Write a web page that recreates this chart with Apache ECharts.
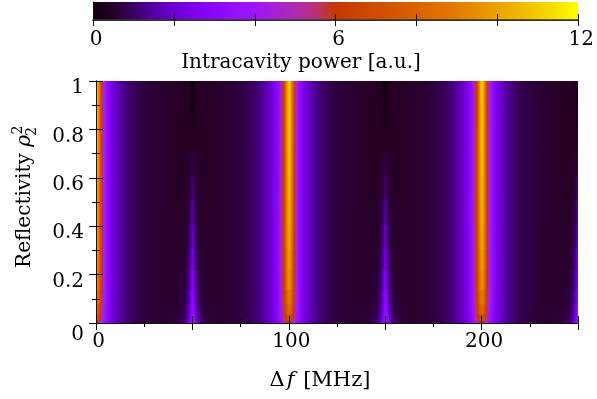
<!DOCTYPE html>
<html><head><meta charset="utf-8">
<script src="https://cdn.jsdelivr.net/npm/echarts@6/dist/echarts.min.js"></script>
<style>html,body{margin:0;padding:0;background:#fff}#c{width:597px;height:399px}</style>
</head><body><div id="c"></div>
<script>
// ---- data ----
const detuningRange = [0, 250];            // MHz
const resonancesMHz = [0, 100, 200];       // main resonances
// offsets (MHz) from the nearest main resonance, out to the half-way point
const detuningOffsets = [0, 0.5, 1, 1.5, 2, 2.5, 3, 3.5, 4, 5, 6, 7, 8, 10, 12, 15, 19, 24, 30, 36, 42, 46, 48, 49, 49.5, 50];
// reflectivity bands (rho_2^2)
const reflectivityEdges = [0, 0.015, 0.04, 0.08, 0.14, 0.22, 0.31, 0.41, 0.51, 0.61, 0.71, 0.81, 0.91, 1.0];
// intracavity power [a.u.], one row per band (bottom to top), one value per offset
const powerRows = [
  [6.4, 6.3, 6.1, 5.8, 5.4, 5.0, 4.6, 4.2, 3.8, 3.3, 2.9, 2.6, 2.3, 1.9, 1.58, 1.24, 0.95, 0.75, 0.62, 0.56, 0.7, 1.2, 2.4, 3.3, 3.7, 3.9],
  [7.4, 7.3, 7.0, 6.6, 6.1, 5.6, 5.0, 4.5, 4.1, 3.5, 3.0, 2.7, 2.4, 1.92, 1.6, 1.25, 0.95, 0.75, 0.62, 0.56, 0.65, 1.0, 2.0, 3.0, 3.4, 3.6],
  [8.3, 8.1, 7.8, 7.3, 6.7, 6.1, 5.4, 4.8, 4.3, 3.6, 3.1, 2.75, 2.42, 1.95, 1.6, 1.25, 0.95, 0.75, 0.62, 0.56, 0.6, 0.85, 1.7, 2.6, 3.1, 3.3],
  [9.0, 8.8, 8.4, 7.8, 7.1, 6.4, 5.7, 5.0, 4.5, 3.7, 3.15, 2.78, 2.44, 1.95, 1.6, 1.25, 0.95, 0.75, 0.62, 0.56, 0.58, 0.75, 1.45, 2.3, 2.8, 3.0],
  [9.6, 9.4, 8.9, 8.2, 7.4, 6.6, 5.9, 5.1, 4.6, 3.8, 3.2, 2.8, 2.45, 1.95, 1.6, 1.25, 0.95, 0.75, 0.62, 0.56, 0.56, 0.68, 1.2, 1.95, 2.45, 2.65],
  [9.9, 9.7, 9.1, 8.4, 7.6, 6.8, 6.0, 5.2, 4.6, 3.8, 3.2, 2.8, 2.45, 1.95, 1.6, 1.25, 0.95, 0.75, 0.62, 0.56, 0.55, 0.62, 1.0, 1.6, 2.05, 2.25],
  [10.2, 10.0, 9.4, 8.6, 7.7, 6.9, 6.0, 5.2, 4.7, 3.8, 3.2, 2.8, 2.45, 1.95, 1.6, 1.25, 0.95, 0.75, 0.62, 0.56, 0.54, 0.58, 0.85, 1.3, 1.65, 1.85],
  [10.4, 10.1, 9.5, 8.7, 7.8, 6.9, 6.1, 5.3, 4.7, 3.8, 3.2, 2.8, 2.45, 1.95, 1.6, 1.25, 0.95, 0.75, 0.62, 0.56, 0.53, 0.55, 0.72, 1.05, 1.3, 1.45],
  [10.6, 10.3, 9.7, 8.8, 7.9, 7.0, 6.1, 5.3, 4.7, 3.8, 3.2, 2.8, 2.45, 1.95, 1.6, 1.25, 0.95, 0.75, 0.62, 0.56, 0.52, 0.53, 0.62, 0.82, 1.0, 1.1],
  [10.7, 10.4, 9.8, 8.9, 7.9, 7.0, 6.1, 5.3, 4.7, 3.8, 3.2, 2.8, 2.45, 1.95, 1.6, 1.25, 0.95, 0.75, 0.62, 0.56, 0.52, 0.52, 0.56, 0.65, 0.74, 0.78],
  [10.8, 10.5, 9.9, 8.9, 8.0, 7.0, 6.1, 5.3, 4.7, 3.8, 3.2, 2.8, 2.45, 1.95, 1.6, 1.25, 0.95, 0.75, 0.62, 0.56, 0.52, 0.51, 0.5, 0.48, 0.46, 0.45],
  [10.9, 10.6, 9.9, 9.0, 8.0, 7.0, 6.1, 5.3, 4.7, 3.8, 3.2, 2.8, 2.45, 1.95, 1.6, 1.25, 0.95, 0.75, 0.62, 0.56, 0.52, 0.5, 0.45, 0.36, 0.27, 0.22],
  [11.0, 10.7, 10.0, 9.0, 8.0, 7.0, 6.1, 5.3, 4.7, 3.8, 3.2, 2.8, 2.45, 1.95, 1.6, 1.25, 0.95, 0.75, 0.62, 0.56, 0.52, 0.5, 0.4, 0.24, 0.1, 0.03]
];
const xTickLabels = [0, 100, 200];
const colorbarRange = [0, 12];
const colorbarTickLabels = [0, 6, 12];
// palette, evenly spaced from 0 to 12
const paletteColors = ['#100010','#260024','#3a0060','#5400a4','#6c00d0','#7e00ec','#8a06fc','#9410fe','#9e14f8','#a820d4','#b02ab0','#ba3078','#c43800','#c94200','#ce4c00','#d45600','#da6200','#df6e00','#e47c00','#e88e00','#eca200','#f0b600','#f4cc00','#f9e400','#ffff00'];

// ---- build cells ----
const cells = [];
for (let r = 0; r < powerRows.length; r++) {
  const y0 = reflectivityEdges[r], y1 = reflectivityEdges[r + 1];
  const row = powerRows[r];
  resonancesMHz.forEach(c => {
    [1, -1].forEach(dir => {
      for (let k = 0; k < detuningOffsets.length - 1; k++) {
        let xa = c + dir * detuningOffsets[k], xb = c + dir * detuningOffsets[k + 1];
        let va = row[k], vb = row[k + 1];
        if (xa > xb) { [xa, xb] = [xb, xa]; [va, vb] = [vb, va]; }
        if (xb <= detuningRange[0] || xa >= detuningRange[1]) continue;
        cells.push([xa, xb, y0, y1, va, vb]);
      }
    });
  });
}

function colorAt(v) {
  const t = Math.max(0, Math.min(1, (v - colorbarRange[0]) / (colorbarRange[1] - colorbarRange[0])));
  return echarts.color.lerp(t, paletteColors);
}

function renderCell(params, api) {
  const p0 = api.coord([api.value(0), api.value(3)]);
  const p1 = api.coord([api.value(1), api.value(2)]);
  return {
    type: 'rect',
    shape: { x: p0[0], y: p0[1], width: p1[0] - p0[0] + 0.7, height: p1[1] - p0[1] + 0.7 },
    style: { fill: new echarts.graphic.LinearGradient(0, 0, 1, 0, [
      { offset: 0, color: colorAt(api.value(4)) },
      { offset: 1, color: colorAt(api.value(5)) }
    ]) }
  };
}

function renderColorbar(params, api) {
  const p0 = api.coord([api.value(0), api.value(3)]);
  const p1 = api.coord([api.value(1), api.value(2)]);
  const stops = paletteColors.map((c, i) => ({ offset: i / (paletteColors.length - 1), color: c }));
  return {
    type: 'rect',
    shape: { x: p0[0], y: p0[1], width: p1[0] - p0[0], height: p1[1] - p0[1] },
    style: { fill: new echarts.graphic.LinearGradient(0, 0, 1, 0, stops) }
  };
}

const FONT = 'DejaVu Serif';
const black = '#000';
const axisLine = { show: true, lineStyle: { color: '#111', width: 1 } };

function measure(text, font) {
  const ctx = document.createElement('canvas').getContext('2d');
  ctx.font = font;
  return ctx.measureText(text).width;
}
const wMain = measure('Reflectivity ', '20px "DejaVu Serif"');
const wRho = measure('ρ', 'italic 20px "DejaVu Serif"');
const wScript = measure('2', '14px "DejaVu Serif"');
const wTotal = wMain + wRho + wScript;

const chart = echarts.init(document.getElementById('c'), null, { renderer: 'canvas' });
chart.setOption({
  animation: false,
  backgroundColor: '#fff',
  textStyle: { fontFamily: FONT, fontSize: 20, color: black },
  grid: [
    { left: 96, top: 81, width: 482, height: 242, show: true, backgroundColor: '#240018', borderWidth: 0 },
    { left: 93, top: 2, width: 486, height: 18 }
  ],
  xAxis: [
    { gridIndex: 0, type: 'value', position: 'bottom', min: detuningRange[0], max: detuningRange[1], interval: 50, z: 10,
      axisLine: axisLine, splitLine: { show: false },
      axisTick: { show: true, inside: true, length: 7, lineStyle: { color: black } },
      minorTick: { show: true, splitNumber: 2, length: 4, lineStyle: { color: black } },
      axisLabel: { margin: 9, fontFamily: FONT, fontSize: 20, color: black, padding: [0, 0, 0, 5],
        formatter: v => xTickLabels.indexOf(v) >= 0 ? String(v) : '' } },
    { gridIndex: 0, type: 'value', position: 'top', min: detuningRange[0], max: detuningRange[1], interval: 50, z: 10,
      axisLine: axisLine, splitLine: { show: false },
      axisTick: { show: true, inside: true, length: 7, lineStyle: { color: black } },
      minorTick: { show: true, splitNumber: 2, length: 4, lineStyle: { color: black } },
      axisLabel: { show: false } },
    { gridIndex: 1, type: 'value', position: 'bottom', min: colorbarRange[0], max: colorbarRange[1], interval: 2, z: 10,
      axisLine: axisLine, splitLine: { show: false },
      axisTick: { show: true, inside: true, length: 6, lineStyle: { color: '#111' } },
      axisLabel: { margin: 10, fontFamily: FONT, fontSize: 20, color: black, padding: [0, 0, 0, 6],
        formatter: v => colorbarTickLabels.indexOf(v) >= 0 ? String(v) : '' } },
    { gridIndex: 1, type: 'value', position: 'top', min: colorbarRange[0], max: colorbarRange[1], interval: 2, z: 10,
      axisLine: { show: true, lineStyle: { color: '#3a3a3a', width: 1.5 } }, splitLine: { show: false },
      axisTick: { show: true, inside: true, length: 6, lineStyle: { color: '#111' } },
      axisLabel: { show: false } }
  ],
  yAxis: [
    { gridIndex: 0, type: 'value', position: 'left', min: 0, max: 1, interval: 0.2, z: 10,
      axisLine: axisLine, splitLine: { show: false },
      axisTick: { show: true, inside: true, length: 7, lineStyle: { color: black } },
      minorTick: { show: true, splitNumber: 2, length: 4, lineStyle: { color: black } },
      axisLabel: { margin: 12, verticalAlign: 'top', lineHeight: 14, fontFamily: FONT, fontSize: 20, color: black,
        formatter: v => v === 0 ? '{z|0}' : String(v),
        rich: { z: { fontFamily: FONT, fontSize: 20, lineHeight: 24 } } } },
    { gridIndex: 0, type: 'value', position: 'right', min: 0, max: 1, interval: 0.2, z: 10,
      axisLine: axisLine, splitLine: { show: false },
      axisTick: { show: true, inside: true, length: 7, lineStyle: { color: black } },
      minorTick: { show: true, splitNumber: 2, length: 4, lineStyle: { color: black } },
      axisLabel: { show: false } },
    { gridIndex: 1, type: 'value', position: 'left', min: 0, max: 1, z: 10,
      axisLine: axisLine, splitLine: { show: false }, axisTick: { show: false }, axisLabel: { show: false } },
    { gridIndex: 1, type: 'value', position: 'right', min: 0, max: 1, z: 10,
      axisLine: axisLine, splitLine: { show: false }, axisTick: { show: false }, axisLabel: { show: false } }
  ],
  series: [
    { type: 'custom', name: 'Intracavity power', xAxisIndex: 0, yAxisIndex: 0, clip: true,
      renderItem: renderCell, data: cells, encode: { x: [0, 1], y: [2, 3] }, silent: true },
    { type: 'custom', name: 'Colorbar', xAxisIndex: 2, yAxisIndex: 2, clip: true,
      renderItem: renderColorbar, data: [[colorbarRange[0], colorbarRange[1], 0, 1]], encode: { x: [0, 1], y: [2, 3] }, silent: true }
  ],
  graphic: [
    { type: 'text', x: 301, y: 63, style: { text: 'Intracavity power [a.u.]', font: '20px "DejaVu Serif"', fill: black, align: 'center', verticalAlign: 'middle' } },
    { type: 'text', x: 320, y: 381, style: { text: '{n|Δ}{i|f}{n| [MHz]}', fill: black, align: 'center', verticalAlign: 'middle',
        rich: { n: { fontFamily: FONT, fontSize: 21, fill: black }, i: { fontFamily: FONT, fontSize: 21, fontStyle: 'italic', fill: black, padding: [0, 2, 0, 2] } } } },
    { type: 'group', x: 25, y: 197, rotation: Math.PI / 2, children: [
      { type: 'text', x: -wTotal / 2, y: 0, style: { text: 'Reflectivity ', font: '20px "DejaVu Serif"', fill: black, align: 'left', verticalAlign: 'middle' } },
      { type: 'text', x: -wTotal / 2 + wMain, y: 0, style: { text: 'ρ', font: 'italic 20px "DejaVu Serif"', fill: black, align: 'left', verticalAlign: 'middle' } },
      { type: 'text', x: -wTotal / 2 + wMain + wRho + 0.5, y: -7, style: { text: '2', font: '14px "DejaVu Serif"', fill: black, align: 'left', verticalAlign: 'middle' } },
      { type: 'text', x: -wTotal / 2 + wMain + wRho - 1, y: 7, style: { text: '2', font: '14px "DejaVu Serif"', fill: black, align: 'left', verticalAlign: 'middle' } }
    ] }
  ]
});
</script></body></html>
